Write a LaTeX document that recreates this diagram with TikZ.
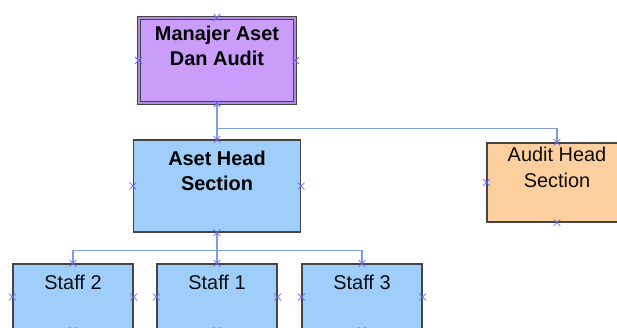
\documentclass[tikz,border=0pt]{standalone}
\usepackage{fontspec}
\setmainfont{Liberation Sans}
\usetikzlibrary{positioning,shapes.misc}
\definecolor{mgrfill}{HTML}{CA9DFB}
\definecolor{mgrgap}{HTML}{B58AE6}
\definecolor{secfill}{HTML}{A0CEFA}
\definecolor{audfill}{HTML}{FDCF9F}
\definecolor{linkblue}{HTML}{7E9EE0}
\definecolor{markblue}{HTML}{6A6AF5}
\definecolor{boxline}{HTML}{454545}

\tikzset{
  unitbox/.style={draw=boxline,line width=1.2bp,rectangle,inner sep=0pt},
  headtext/.style={align=center,inner sep=0pt,text=black,font=\fontsize{20}{26}\selectfont\bfseries},
  plaintext/.style={align=center,inner sep=0pt,text=black!95,font=\fontsize{20}{27}\selectfont},
  link/.style={draw=linkblue,line width=1.2bp},
  joint/.style={cross out,draw=markblue,line width=0.8bp,minimum size=6bp,inner sep=0pt}
}

\begin{document}
\begin{tikzpicture}[x=1bp,y=-1bp]
\clip (0,0) rectangle (617,327);
\fill[white] (0,0) rectangle (617,327);

% boxes
\node[unitbox,fill=mgrfill,line width=1.1bp,double=mgrgap,double distance=1.6bp,
      minimum width=156bp,minimum height=85bp] (mgr) at (217,60.5) {};
\node[unitbox,fill=secfill,minimum width=167bp,minimum height=92bp] (aset) at (217,186) {};
\node[unitbox,fill=audfill,minimum width=140bp,minimum height=79bp] (audit) at (557,182.5) {};
\node[unitbox,fill=secfill,minimum width=120bp,minimum height=66bp] (staff2) at (73,297) {};
\node[unitbox,fill=secfill,minimum width=120bp,minimum height=66bp] (staff1) at (217,297) {};
\node[unitbox,fill=secfill,minimum width=120bp,minimum height=66bp] (staff3) at (362,297) {};

% texts
\node[headtext,below=8bp of mgr.north] (mgrtext) {Manajer Aset\\Dan Audit};
\node[headtext,below=11bp of aset.north] (asettext) {Aset Head\\Section};
\node[plaintext,below=4bp of audit.north] (audittext) {Audit Head\\Section};
\node[plaintext,below=11bp of staff2.north] (staff2text) {Staff 2};
\node[plaintext,below=11bp of staff1.north] (staff1text) {Staff 1};
\node[plaintext,below=11bp of staff3.north] (staff3text) {Staff 3};

% connectors
\draw[link] (mgr.south) -- ++(0,25) -| (audit.north);
\draw[link] (mgr.south) -- (aset.north);
\draw[link] (aset.south) -- ++(0,18) -| (staff2.north);
\draw[link] (aset.south) -- ++(0,18) -| (staff3.north);
\draw[link] (aset.south) -- (staff1.north);

% connection points
\foreach \b in {mgr,aset,audit,staff2,staff1,staff3}
  \foreach \s in {north,south,east,west}
    \node[joint] (\b-\s) at (\b.\s) {};
\end{tikzpicture}
\end{document}
